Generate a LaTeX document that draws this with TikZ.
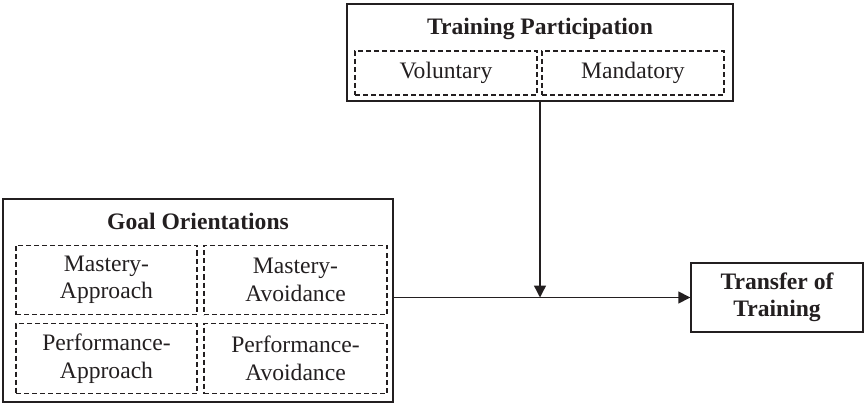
\documentclass[tikz,border=0pt]{standalone}
\usepackage{fontspec}
\setmainfont{Liberation Serif}
\usetikzlibrary{arrows.meta}
\definecolor{ink}{HTML}{231F20}
\newcommand{\bigtxt}{\fontsize{23.6}{27.5}\selectfont}
\begin{document}
\begin{tikzpicture}[x=1pt,y=-1pt,
  outer/.style={draw=ink,line width=1.4pt,inner sep=0pt},
  inner/.style={draw=ink,line width=1.1pt,dash pattern=on 5pt off 3pt,inner sep=0pt,align=center,text=ink,font=\bigtxt},
  ttl/.style={anchor=base,text=ink,font=\bigtxt\bfseries},
  arr/.style={draw=ink,line width=1.4pt,-{Triangle[length=12pt,width=12pt]}}]
\useasboundingbox (0,0) rectangle (864,403);
% Training Participation
\node[outer,minimum width=386pt,minimum height=97pt] (tp) at (540,52.5) {};
\node[ttl] (tpt) at (540,35) {Training Participation};
\node[inner,minimum width=182pt,minimum height=44pt] (vol) at (446,73) {Voluntary};
\node[inner,minimum width=182pt,minimum height=44pt] (man) at (633,73) {Mandatory};
% Goal Orientations
\node[outer,minimum width=390pt,minimum height=203pt] (goal) at (198,300.5) {};
\node[ttl] (goalt) at (198,230) {Goal Orientations};
\node[inner,minimum width=181pt,minimum height=69pt] (ma) at (106.5,280) {Mastery-\\Approach};
\node[inner,minimum width=183pt,minimum height=69pt] (mav) at (295.5,280) {Mastery-\\Avoidance};
\node[inner,minimum width=181pt,minimum height=70pt] (pa) at (106.5,358.5) {Performance-\\Approach};
\node[inner,minimum width=183pt,minimum height=70pt] (pav) at (295.5,358.5) {Performance-\\Avoidance};
% Transfer
\node[outer,minimum width=172pt,minimum height=69pt,align=center,font=\bigtxt\bfseries,text=ink] (tr) at (777,297.5) {Transfer of\\Training};
% connectors
\coordinate (m) at (tp.south |- tr.west);
\draw[arr] (goal.east |- tr.west) -- (tr.west);
\draw[arr] (tp.south) -- (m);
\end{tikzpicture}
\end{document}
